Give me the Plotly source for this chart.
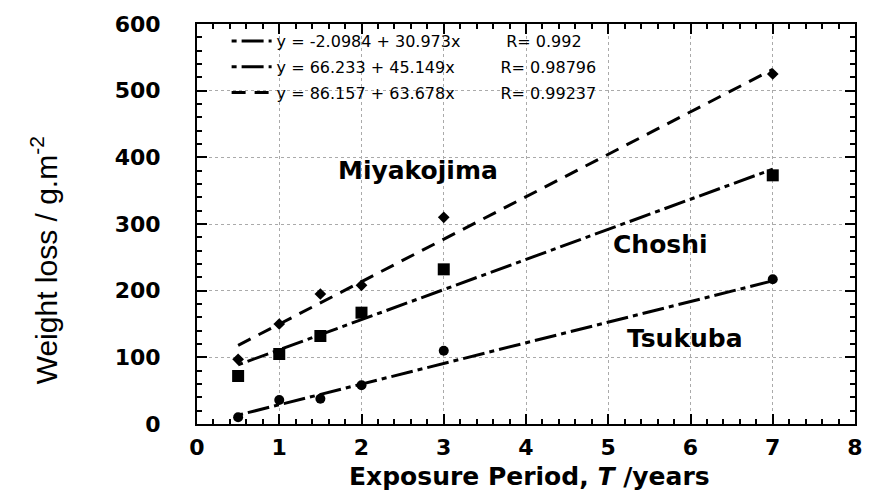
import plotly.graph_objects as go

# Data
periods = [0.5, 1, 1.5, 2, 3, 7]
tsukuba = [10, 36, 38, 58, 110, 217]
choshi = [72, 105, 132, 167, 232, 373]
miyakojima = [97, 150, 195, 208, 310, 525]

# Linear fit coefficients (intercept, slope) and R values
fit_tsukuba = (-2.0984, 30.973, "0.992")
fit_choshi = (66.233, 45.149, "0.98796")
fit_miyako = (86.157, 63.678, "0.99237")
fit_range = [0.5, 7]

x_ticks = [0, 1, 2, 3, 4, 5, 6, 7, 8]
y_ticks = [0, 100, 200, 300, 400, 500, 600]

fig = go.Figure()

def fit_line(coef, dash, group, gap):
    a, b, r = coef
    xs = fit_range
    ys = [a + b * x for x in xs]
    label = f"y = {a:g} + {b:g}x" + "&nbsp;" * gap + f"R= {r}"
    fig.add_trace(go.Scatter(x=xs, y=ys, mode="lines", name=label, legendgroup=group,
                             line=dict(color="black", width=3, dash=dash)))

fit_line(fit_tsukuba, "5px,5px,22px,5px", "g1", 9)
fit_line(fit_choshi, "5px,5px,22px,5px", "g2", 9)
fit_line(fit_miyako, "14px,9px", "g3", 9)

fig.add_trace(go.Scatter(x=periods, y=tsukuba, mode="markers", showlegend=False,
                         marker=dict(symbol="circle", size=10, color="black")))
fig.add_trace(go.Scatter(x=periods, y=choshi, mode="markers", showlegend=False,
                         marker=dict(symbol="square", size=12, color="black")))
fig.add_trace(go.Scatter(x=periods, y=miyakojima, mode="markers", showlegend=False,
                         marker=dict(symbol="diamond", size=9, color="black")))

label_font = dict(family="DejaVu Sans", size=25, color="black", weight="bold")
fig.add_annotation(x=2.69, y=380, text="Miyakojima", showarrow=False, font=label_font)
fig.add_annotation(x=5.63, y=269, text="Choshi", showarrow=False, font=label_font)
fig.add_annotation(x=5.93, y=129, text="Tsukuba", showarrow=False, font=label_font)

# Axis titles
fig.add_annotation(xref="paper", yref="paper", x=0.505, y=-0.172, xanchor="center", yanchor="bottom",
                   text="Exposure Period, <i>T</i> /years", showarrow=False,
                   font=dict(family="DejaVu Sans", size=25, color="black", weight="bold"))
fig.add_annotation(xref="paper", yref="paper", x=-0.232, y=0.41, xanchor="center", yanchor="middle",
                   textangle=-90, text="Weight loss / g.m<sup>-2</sup>", showarrow=False,
                   font=dict(family="Liberation Sans", size=30, color="black"))

tick_font = dict(family="DejaVu Sans", size=22, color="black", weight="bold")

fig.update_layout(
    width=870, height=493,
    margin=dict(l=197, r=15, t=24, b=69),
    paper_bgcolor="white", plot_bgcolor="white",
    font=dict(family="DejaVu Sans", color="black"),
    legend=dict(x=0.045, y=1.0, xanchor="left", yanchor="top",
                bgcolor="rgba(0,0,0,0)", font=dict(size=16, color="black", family="DejaVu Sans"),
                tracegroupgap=2, itemwidth=40),
    xaxis=dict(range=[0, 8], tickvals=x_ticks, ticks="inside", ticklen=10,
               tickwidth=1.5, tickcolor="black", ticklabelstandoff=3, automargin=False,
               minor=dict(dtick=0.2, ticks="inside", ticklen=5, tickcolor="black", showgrid=False),
               showline=True, linecolor="black", linewidth=2, mirror="allticks",
               showgrid=True, gridcolor="#aaaaaa", griddash="dot", gridwidth=1,
               zeroline=False, tickfont=tick_font),
    yaxis=dict(range=[0, 600], tickvals=y_ticks, ticks="inside", ticklen=10,
               tickwidth=1.5, tickcolor="black", ticklabelstandoff=30, automargin=False,
               minor=dict(dtick=20, ticks="inside", ticklen=5, tickcolor="black", showgrid=False),
               showline=True, linecolor="black", linewidth=2, mirror="allticks",
               showgrid=True, gridcolor="#aaaaaa", griddash="dot", gridwidth=1,
               zeroline=False, tickfont=tick_font),
)

fig.write_html("out.html")
